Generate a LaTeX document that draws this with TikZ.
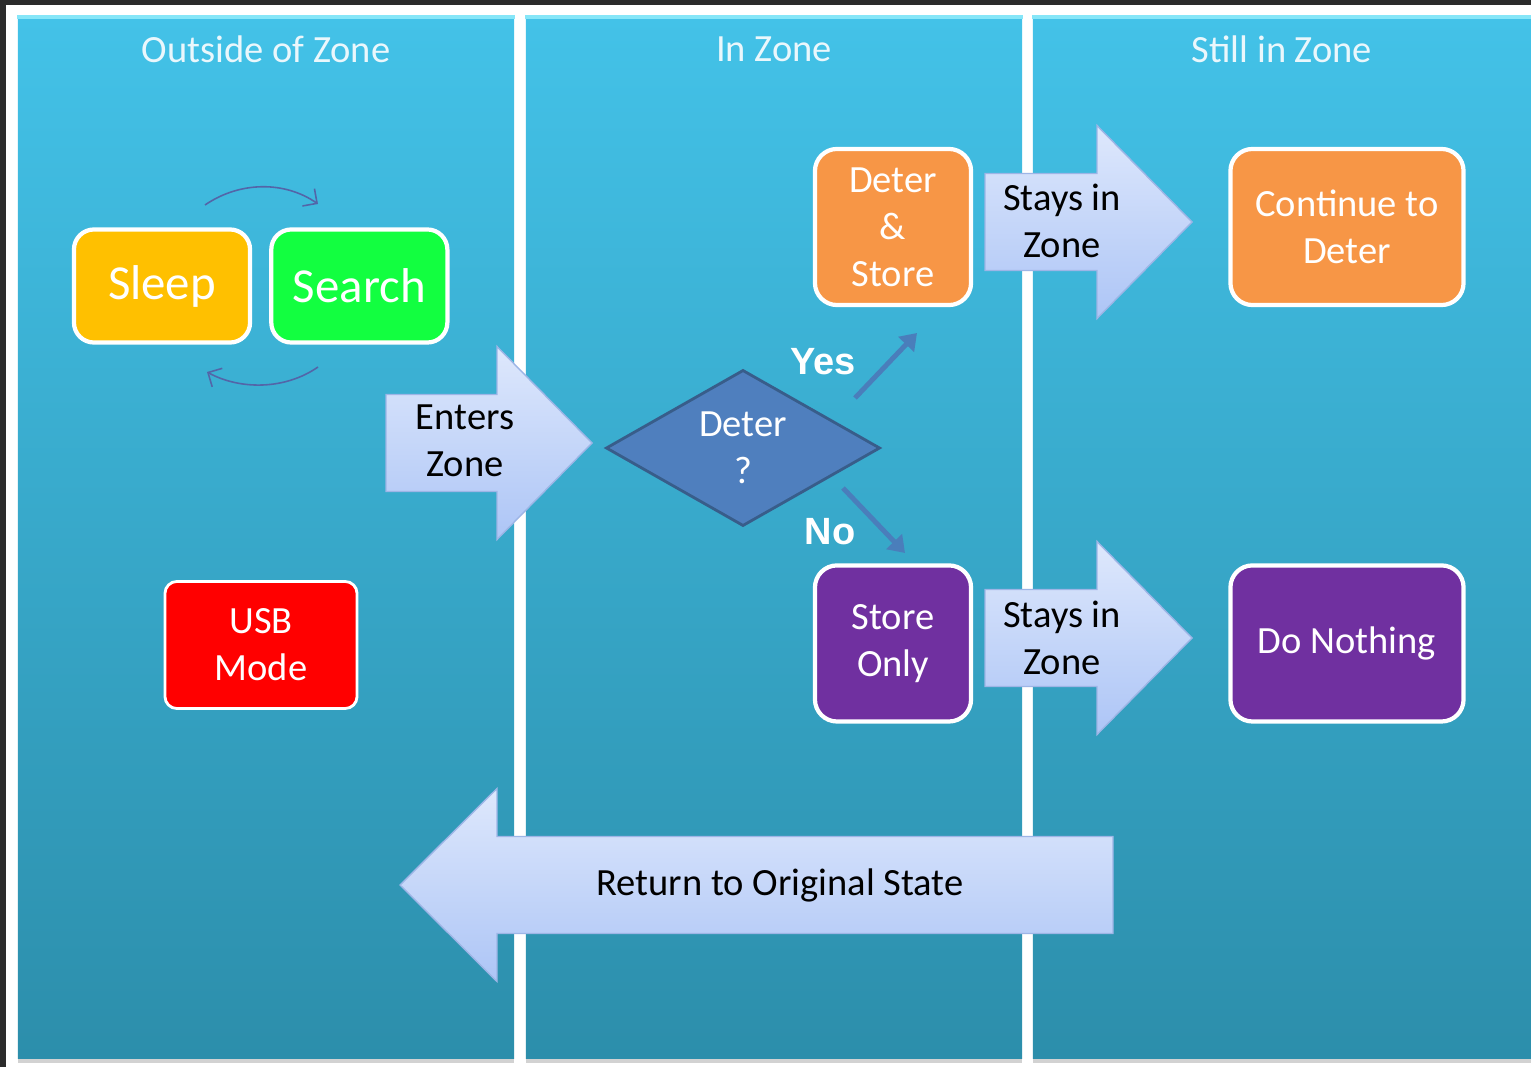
\documentclass[tikz,border=0pt]{standalone}
\usepackage{fontspec}
\setmainfont{Carlito}
\newfontfamily\ynfont{Liberation Sans}
\usepackage{tikz}
\usetikzlibrary{arrows.meta,positioning,calc,shapes.geometric,shadows}
\definecolor{frame}{HTML}{2B2B2B}
\definecolor{zonetop}{HTML}{43C2E8}
\definecolor{zonebot}{HTML}{2C8EAB}
\definecolor{zoneedge}{HTML}{86E6F8}
\definecolor{headtext}{HTML}{EAF7FC}
\definecolor{sleepc}{HTML}{FFC000}
\definecolor{searchc}{HTML}{12FF40}
\definecolor{usbc}{HTML}{FF0000}
\definecolor{deterc}{HTML}{F79646}
\definecolor{storec}{HTML}{7030A0}
\definecolor{diamc}{HTML}{4F7FBE}
\definecolor{diamedge}{HTML}{385D8A}
\definecolor{bigtop}{HTML}{DEE8FC}
\definecolor{bigbot}{HTML}{ADC5F6}
\definecolor{bigedge}{HTML}{9DB5E6}
\definecolor{loopcol}{HTML}{5365A8}
\definecolor{ynarrow}{HTML}{4A7EBB}

\begin{document}
\begin{tikzpicture}[
  x=0.01cm,y=-0.01cm,
  every node/.style={font=\fontsize{10.95}{13.4}\selectfont},
  zone/.style={minimum width=4.96cm,minimum height=10.40cm,inner sep=0pt,top color=zonetop,bottom color=zonebot,
    drop shadow={shadow xshift=0pt,shadow yshift=-1.3pt,opacity=.35}},
  zonehead/.style={text=headtext},
  state/.style={draw=white,line width=1.2pt,rounded corners=0.2cm,text=white,align=center,inner sep=2pt},
  bigstate/.style={state,font=\fontsize{13.9}{16}\selectfont,minimum width=1.76cm,minimum height=1.13cm},
  bigarrow/.style={draw=bigedge,line width=0.4pt,top color=bigtop,bottom color=bigbot},
  arrowtext/.style={align=center,text=black},
  loopc/.style={loopcol,line width=0.45pt,-{Straight Barb[length=3pt,width=6pt]}},
  yesno/.style={ynarrow,line width=1.4pt,-{Triangle[length=4.5pt,width=6pt]}},
  ynlabel/.style={font=\ynfont\bfseries\fontsize{10.8}{13}\selectfont,text=white}
]
\useasboundingbox (0,0) rectangle (1531,1067);
\fill[white] (0,0) rectangle (1531,1067);
\fill[frame] (0,0) rectangle (1531,5);
\fill[frame] (0,0) rectangle (6,1067);

% the three zones
\node[zone] (outside) at (266,538) {};
\node[zone] (inzone) at (774,538) {};
\node[zone,minimum width=4.98cm] (stillin) at (1282,538) {};
\foreach \z in {outside,inzone,stillin}
  \draw[zoneedge,line width=1pt] (\z.north west) -- (\z.north east);
\node[zonehead] (outsidehead) at ([yshift=-0.32cm]outside.north) {Outside of Zone};
\node[zonehead] (inzonehead) at ([yshift=-0.32cm]inzone.north) {In Zone};
\node[zonehead] (stillinhead) at ([yshift=-0.32cm]stillin.north) {Still in Zone};

% outside of zone
\node[bigstate,fill=sleepc] (sleep) at (162,286) {Sleep};
\node[bigstate,fill=searchc,right=0.17cm of sleep] (search) {Search};
\coordinate (loopa) at (205,205);
\coordinate (loopb) at (318,204);
\coordinate (loopc) at (318,367);
\coordinate (loopd) at (207,372);
\draw[loopc] (loopa) .. controls (240,181) and (285,181) .. (loopb);
\draw[loopc] (loopc) .. controls (285,390) and (240,390) .. (loopd);
\node[state,fill=usbc,line width=0.8pt,rounded corners=0.12cm,minimum width=1.92cm,minimum height=1.27cm] (usb) at (261,645) {USB\\Mode};

% block arrows
\path[bigarrow] (386,394.5) -- (497,394.5) -- (497,346.5) -- (592,443) -- (497,539.5) -- (497,491.5) -- (386,491.5) -- cycle;
\node[arrowtext] (enters) at (465,441) {Enters\\Zone};
\path[bigarrow] (985,173.5) -- (1097,173.5) -- (1097,125.5) -- (1192,222) -- (1097,318.5) -- (1097,270.5) -- (985,270.5) -- cycle;
\node[arrowtext] (staysa) at (1062,221) {Stays in\\Zone};
\path[bigarrow] (985,589.5) -- (1097,589.5) -- (1097,541.5) -- (1192,638) -- (1097,734.5) -- (1097,686.5) -- (985,686.5) -- cycle;
\node[arrowtext] (staysb) at (1062,638) {Stays in\\Zone};
\path[bigarrow] (1113,836.5) -- (497,836.5) -- (497,788.5) -- (400,885) -- (497,981.5) -- (497,933.5) -- (1113,933.5) -- cycle;
\node[arrowtext] (back) at (780,885) {Return to Original State};

% in zone
\node[diamond,draw=diamedge,fill=diamc,line width=0.8pt,aspect=1.75,minimum width=2.74cm,minimum height=1.56cm,
  inner sep=0pt,text=white,align=center] (deter) at (743,448) {Deter\\?};
\node[state,fill=deterc,rounded corners=0.22cm,minimum width=1.56cm,minimum height=1.56cm] (deterstore) at (893,227) {Deter\\\&\\Store};
\node[state,fill=storec,rounded corners=0.22cm,minimum width=1.56cm,minimum height=1.56cm,below=2.56cm of deterstore] (storeonly) {Store\\Only};
\coordinate (yesfrom) at (855,398);
\coordinate (yesto) at (917,333);
\coordinate (nofrom) at (843,488);
\coordinate (noto) at (905,553);
\draw[yesno] (yesfrom) -- (yesto);
\draw[yesno] (nofrom) -- (noto);
\node[ynlabel] (yes) at (823,362) {Yes};
\node[ynlabel] (no) at (830,532) {No};

% still in zone
\node[state,fill=deterc,rounded corners=0.22cm,minimum width=2.33cm,minimum height=1.56cm,right=2.55cm of deterstore] (keepdeter) {Continue to\\Deter};
\node[state,fill=storec,rounded corners=0.22cm,minimum width=2.33cm,minimum height=1.56cm,right=2.55cm of storeonly] (nothing) {Do Nothing};
\end{tikzpicture}
\end{document}
